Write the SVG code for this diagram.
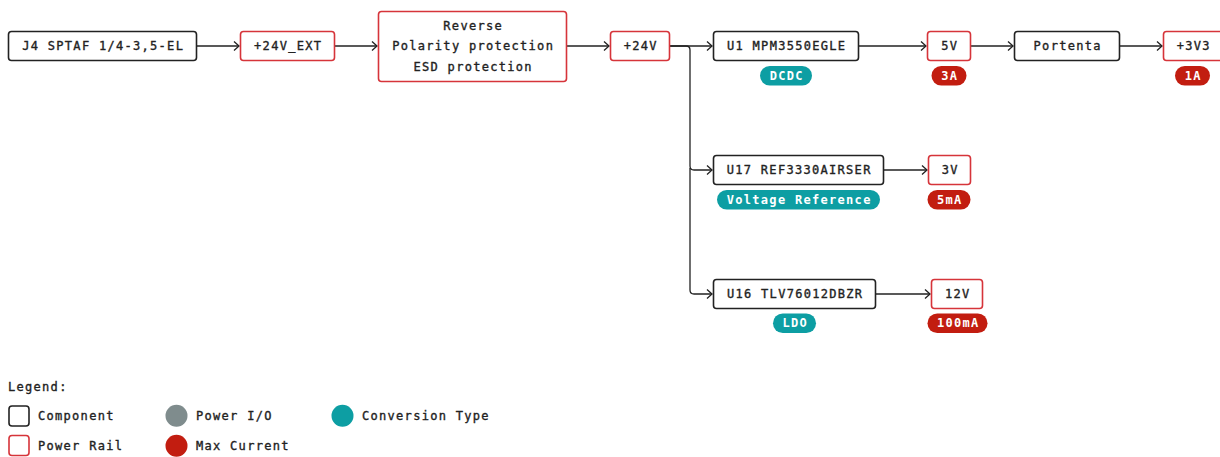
<svg xmlns="http://www.w3.org/2000/svg" width="1220" height="457" viewBox="0 0 1220 457">
<defs>
<marker id="arr" markerWidth="10" markerHeight="12" refX="8" refY="6" orient="auto" markerUnits="userSpaceOnUse">
<polyline points="3,1.5 8,6 3,10.5" fill="none" stroke="#222" stroke-width="1.3"/>
</marker>
<style>
.comp{fill:#fff;stroke:#222;stroke-width:1.6}
.rail{fill:#fff;stroke:#d6343a;stroke-width:1.6}
.t{font-family:"DejaVu Sans Mono","Liberation Mono",monospace;font-size:12px;letter-spacing:1.3px;fill:#222;stroke:#222;stroke-width:0.35px;text-anchor:middle;dominant-baseline:central}
.b{font-family:"DejaVu Sans Mono","Liberation Mono",monospace;font-size:12px;font-weight:bold;letter-spacing:1.3px;fill:#fff;text-anchor:middle;dominant-baseline:central}
.lt{font-family:"DejaVu Sans Mono","Liberation Mono",monospace;font-size:12px;letter-spacing:1.3px;fill:#222;stroke:#222;stroke-width:0.35px;dominant-baseline:central}
.teal{fill:#0d9ea3}
.red{fill:#c21d10}
.con{fill:none;stroke:#222;stroke-width:1.3}
</style>
</defs>
<rect width="1220" height="457" fill="#fff"/>
<g id="connectors">
<path class="con" d="M197,46 H239" marker-end="url(#arr)"/>
<path class="con" d="M335,46 H377" marker-end="url(#arr)"/>
<path class="con" d="M567,46 H609" marker-end="url(#arr)"/>
<path class="con" d="M670,46 H712" marker-end="url(#arr)"/>
<path class="con" d="M670,46 H686 Q690,46 690,50 V166 Q690,170 694,170 H712" marker-end="url(#arr)"/>
<path class="con" d="M690,168 V290 Q690,294 694,294 H712" marker-end="url(#arr)"/>
<path class="con" d="M859,46 H926" marker-end="url(#arr)"/>
<path class="con" d="M971,46 H1013" marker-end="url(#arr)"/>
<path class="con" d="M1120,46 H1162" marker-end="url(#arr)"/>
<path class="con" d="M884,170 H927" marker-end="url(#arr)"/>
<path class="con" d="M876,294 H930" marker-end="url(#arr)"/>
</g>
<g id="j4"><rect class="comp" x="8.5" y="31.5" width="188" height="29" rx="3"/><text class="t" x="103.2" y="46">J4 SPTAF 1/4-3,5-EL</text></g>
<g id="v24ext"><rect class="rail" x="240.5" y="31.5" width="94" height="29" rx="3"/><text class="t" x="288.2" y="46">+24V_EXT</text></g>
<g id="protection"><rect class="rail" x="378.5" y="11.5" width="188" height="70" rx="3"/>
<text class="t" x="473.2" y="25.5">Reverse</text>
<text class="t" x="473.2" y="46">Polarity protection</text>
<text class="t" x="473.2" y="66.5">ESD protection</text></g>
<g id="v24"><rect class="rail" x="610.5" y="31.5" width="59" height="29" rx="3"/><text class="t" x="640.7" y="46">+24V</text></g>
<g id="u1"><rect class="comp" x="713.5" y="31.5" width="145" height="29" rx="3"/><text class="t" x="786.7" y="46">U1 MPM3550EGLE</text>
<rect class="teal" x="760" y="66" width="52" height="19.5" rx="9.75"/><text class="b" x="786.7" y="75.8">DCDC</text></g>
<g id="v5"><rect class="rail" x="927.5" y="31.5" width="43" height="29" rx="3"/><text class="t" x="949.7" y="46">5V</text>
<rect class="red" x="931.5" y="66" width="35" height="19.5" rx="9.75"/><text class="b" x="949.7" y="75.8">3A</text></g>
<g id="portenta"><rect class="comp" x="1014.5" y="31.5" width="105" height="29" rx="3"/><text class="t" x="1067.7" y="46">Portenta</text></g>
<g id="v3v3"><rect class="rail" x="1163.5" y="31.5" width="59" height="29" rx="3"/><text class="t" x="1193.7" y="46">+3V3</text>
<rect class="red" x="1175" y="66" width="35" height="19.5" rx="9.75"/><text class="b" x="1193.2" y="75.8">1A</text></g>
<g id="u17"><rect class="comp" x="713.5" y="155.5" width="170" height="29" rx="3"/><text class="t" x="799.2" y="170">U17 REF3330AIRSER</text>
<rect class="teal" x="717" y="190" width="163" height="19.5" rx="9.75"/><text class="b" x="799.2" y="199.8">Voltage Reference</text></g>
<g id="v3"><rect class="rail" x="928.5" y="155.5" width="42" height="29" rx="3"/><text class="t" x="950.2" y="170">3V</text>
<rect class="red" x="927.5" y="190" width="43" height="19.5" rx="9.75"/><text class="b" x="949.7" y="199.8">5mA</text></g>
<g id="u16"><rect class="comp" x="713.5" y="279.5" width="162" height="29" rx="3"/><text class="t" x="795.2" y="294">U16 TLV76012DBZR</text>
<rect class="teal" x="773" y="313.5" width="43" height="19.5" rx="9.75"/><text class="b" x="795.2" y="323.3">LDO</text></g>
<g id="v12"><rect class="rail" x="931.5" y="279.5" width="51" height="29" rx="3"/><text class="t" x="957.7" y="294">12V</text>
<rect class="red" x="927.5" y="313.5" width="60" height="19.5" rx="9.75"/><text class="b" x="958.2" y="323.3">100mA</text></g>
<g id="legend">
<text class="lt" x="8" y="387">Legend:</text>
<rect class="comp" x="9" y="406" width="20" height="20" rx="3"/><text class="lt" x="38" y="416">Component</text>
<rect class="rail" x="9" y="435.5" width="20" height="20" rx="3"/><text class="lt" x="38" y="446">Power Rail</text>
<circle cx="176.5" cy="415.7" r="11" fill="#7f8c8d"/><text class="lt" x="196" y="416">Power I/O</text>
<circle cx="176.5" cy="445.7" r="11" class="red"/><text class="lt" x="196" y="446">Max Current</text>
<circle cx="342.5" cy="415.7" r="11" class="teal"/><text class="lt" x="362" y="416">Conversion Type</text>
</g>
</svg>
